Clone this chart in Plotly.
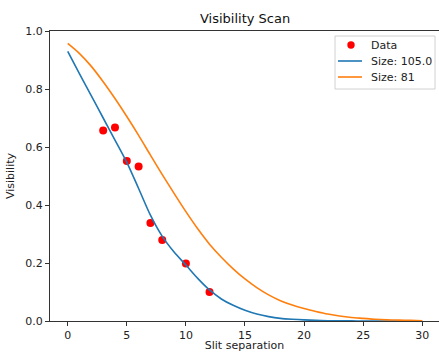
import plotly.graph_objects as go

# Data points
data_x = [3, 4, 5, 6, 7, 8, 10, 12]
data_v = [0.657, 0.667, 0.552, 0.533, 0.338, 0.279, 0.198, 0.100]

# Model curves
curve_x = list(range(0, 31))
size_105 = [0.930, 0.852, 0.776, 0.700, 0.624, 0.547, 0.457, 0.365, 0.292, 0.238,
            0.193, 0.147, 0.107, 0.076, 0.054, 0.037, 0.024, 0.015, 0.009, 0.006,
            0.004, 0.002, 0.001, 0.0006, 0.0003, 0.0002, 0.0001, 0.0, 0.0, 0.0, 0.0]
size_81 = [0.957, 0.922, 0.878, 0.825, 0.767, 0.705, 0.640, 0.572, 0.505, 0.440,
           0.377, 0.318, 0.265, 0.220, 0.180, 0.145, 0.115, 0.090, 0.070, 0.055,
           0.043, 0.033, 0.024, 0.017, 0.012, 0.009, 0.006, 0.004, 0.003, 0.002, 0.001]
legend_names = ["Data", "Size: 105.0", "Size: 81"]
legend_colors = ["red", "#1f77b4", "#ff7f0e"]

x_ticks = [0, 5, 10, 15, 20, 25, 30]
y_ticks = [0.0, 0.2, 0.4, 0.6, 0.8, 1.0]

W, H = 439, 352
L, R, T, B = 50, 0, 31, 31
PW, PH = W - L - R, H - T - B


def xp(px):
    return (px - L) / PW


def yp(py):
    return (H - B - py) / PH


fig = go.Figure()
fig.add_trace(go.Scatter(x=data_x, y=data_v, mode="markers", name=legend_names[0],
                         marker=dict(color=legend_colors[0], size=8)))
fig.add_trace(go.Scatter(x=curve_x, y=size_105, mode="lines", name=legend_names[1],
                         line=dict(color=legend_colors[1], width=1.6, shape="spline", smoothing=0.8)))
fig.add_trace(go.Scatter(x=curve_x, y=size_81, mode="lines", name=legend_names[2],
                         line=dict(color=legend_colors[2], width=1.6, shape="spline", smoothing=0.8)))

font = "DejaVu Sans"

# legend drawn by hand (matplotlib style spacing)
shapes = [dict(type="rect", xref="paper", yref="paper",
               x0=xp(335), x1=xp(435), y0=yp(89), y1=yp(36),
               line=dict(color="#d0d0d0", width=1), fillcolor="rgba(255,255,255,0.8)", layer="above")]
shapes.append(dict(type="circle", xref="paper", yref="paper",
                   x0=xp(347.3), x1=xp(354.7), y0=yp(48.7), y1=yp(41.3),
                   line=dict(color="red", width=0), fillcolor="red", layer="above"))
for i, py in enumerate([61, 77]):
    shapes.append(dict(type="line", xref="paper", yref="paper",
                       x0=xp(338), x1=xp(362), y0=yp(py), y1=yp(py),
                       line=dict(color=legend_colors[i + 1], width=1.6), layer="above"))
annotations = [dict(text="Visibility Scan", xref="paper", yref="paper",
                    x=0.5, y=yp(18), xanchor="center", yanchor="middle",
                    showarrow=False, font=dict(family=font, size=13, color="#111"))]
for name, py in zip(legend_names, [45, 61, 77]):
    annotations.append(dict(text=name, xref="paper", yref="paper", x=xp(369), y=yp(py),
                            xanchor="left", yanchor="middle", showarrow=False,
                            font=dict(family=font, size=11, color="#222")))

fig.update_layout(
    width=W, height=H,
    margin=dict(l=L, r=R, t=T, b=B, autoexpand=False),
    paper_bgcolor="white", plot_bgcolor="white",
    font=dict(family=font, size=11, color="#222"),
    showlegend=False,
    xaxis=dict(range=[-1.5, 31.42], tickvals=x_ticks, ticktext=[str(t) for t in x_ticks],
               automargin=False,
               showgrid=False, zeroline=False, showline=True, linecolor="#333", linewidth=1,
               mirror=True, ticks="outside", ticklen=4, tickcolor="#333",
               title=dict(text="Slit separation", standoff=9,
                          font=dict(family=font, size=11, color="#222"))),
    yaxis=dict(range=[0, 1], tickvals=y_ticks, ticktext=["%.1f" % t for t in y_ticks],
               automargin=False,
               showgrid=False, zeroline=False, showline=True, linecolor="#333", linewidth=1,
               mirror=False, ticks="outside", ticklen=4, tickcolor="#333",
               title=dict(text="Visibility", standoff=8,
                          font=dict(family=font, size=11, color="#222"))),
    shapes=shapes,
    annotations=annotations,
)

fig.write_html("out.html", config={"displayModeBar": False},
               post_script="document.body.style.margin='0';")
